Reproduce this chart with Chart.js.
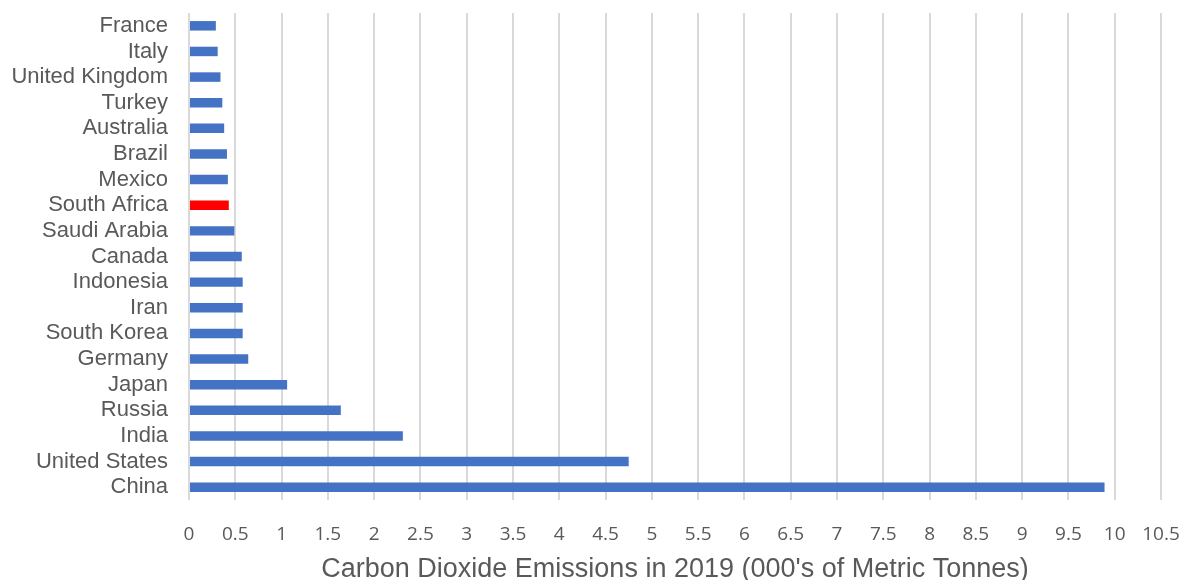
<!DOCTYPE html>
<html>
<head>
<meta charset="utf-8">
<script src="https://cdn.jsdelivr.net/npm/chart.js@4"></script>
<style>
  html, body { margin: 0; padding: 0; background: #ffffff; }
  #wrap { width: 1189px; height: 580px; position: relative; }
</style>
</head>
<body>
<div id="wrap"><canvas id="chart" width="1189" height="580"></canvas></div>
<script>
// Countries, listed top to bottom
const countries = [
  'France', 'Italy', 'United Kingdom', 'Turkey', 'Australia', 'Brazil', 'Mexico',
  'South Africa', 'Saudi Arabia', 'Canada', 'Indonesia', 'Iran', 'South Korea',
  'Germany', 'Japan', 'Russia', 'India', 'United States', 'China'
];

// CO2 emissions in 2019 (000's of metric tonnes)
const emissions = [
  0.29, 0.31, 0.34, 0.36, 0.38, 0.41, 0.42,
  0.43, 0.49, 0.57, 0.58, 0.58, 0.58,
  0.64, 1.06, 1.64, 2.31, 4.75, 9.89
];

const highlighted = 'South Africa';

// x-axis range and step
const xMin = 0;
const xMax = 10.5;
const xStep = 0.5;

const axisTitle = "Carbon Dioxide Emissions in 2019 (000's of Metric Tonnes)";

const barColors = countries.map(c => c === highlighted ? '#ff0000' : '#4472c4');

new Chart(document.getElementById('chart'), {
  type: 'bar',
  data: {
    labels: countries,
    datasets: [{
      data: emissions,
      backgroundColor: barColors,
      borderWidth: 0,
      categoryPercentage: 1,
      barPercentage: 0.37
    }]
  },
  options: {
    indexAxis: 'y',
    responsive: false,
    animation: false,
    layout: { padding: { top: 13, right: 28, bottom: 0, left: 0 } },
    plugins: {
      legend: { display: false },
      tooltip: { enabled: false }
    },
    scales: {
      x: {
        min: xMin,
        max: xMax,
        border: { display: false },
        grid: { color: '#d9d9d9', lineWidth: 2, drawTicks: false },
        ticks: {
          stepSize: xStep,
          autoSkip: false,
          maxRotation: 0,
          padding: 23,
          color: '#595959',
          font: { family: "'Open Sans'", size: 19 },
          callback: value => String(value)
        },
        title: {
          display: true,
          text: axisTitle,
          color: '#595959',
          padding: { top: 0, bottom: 0 },
          font: { family: "'Liberation Sans', Arial, sans-serif", size: 27, lineHeight: 0.8 }
        },
        afterFit(scale) {
          scale.height = 80;
          scale.paddingLeft = 0;
          scale.paddingRight = 0;
        }
      },
      y: {
        border: { display: false },
        grid: { display: false, drawTicks: false },
        ticks: {
          autoSkip: false,
          padding: 21,
          color: '#595959',
          font: { family: "'Liberation Sans', Arial, sans-serif", size: 22 }
        },
        afterFit(scale) {
          scale.width = 189;
          scale.paddingTop = 0;
          scale.paddingBottom = 0;
        }
      }
    }
  }
});
</script>
</body>
</html>
